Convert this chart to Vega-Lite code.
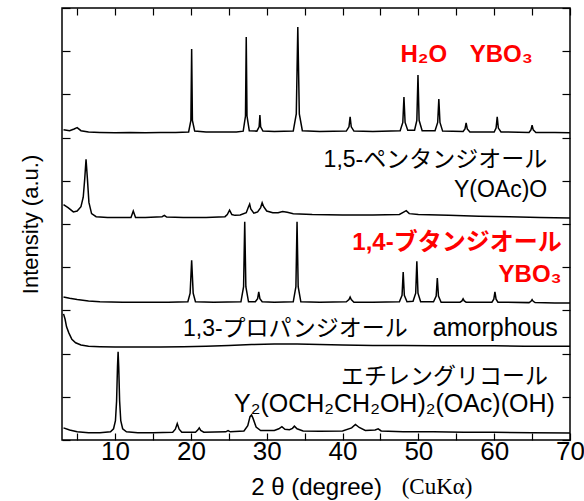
{
  "$schema": "https://vega.github.io/schema/vega-lite/v6.json",
  "width": 508,
  "height": 432,
  "autosize": {"type": "none"},
  "padding": {"left": 62, "top": 8, "right": 14, "bottom": 61},
  "background": "white",
  "config": {
    "view": {"stroke": "black", "strokeWidth": 1.5},
    "axis": {
      "domain": false,
      "grid": false,
      "tickColor": "black",
      "tickWidth": 1.2,
      "labelColor": "black",
      "labelFont": "Liberation Sans",
      "labelFontSize": 26,
      "titleFont": "Liberation Sans",
      "titleFontSize": 22,
      "titleFontWeight": "normal",
      "titleColor": "black"
    }
  },
  "datasets": {
    "xrd": [
      {"s":"A","x":3.2,"y":7.18},{"s":"A","x":4.0,"y":7.16},{"s":"A","x":4.6,"y":7.2},{"s":"A","x":5.0,"y":7.23},{"s":"A","x":5.5,"y":7.16},{"s":"A","x":6.5,"y":7.13},{"s":"A","x":8,"y":7.12},{"s":"A","x":10,"y":7.11},{"s":"A","x":12,"y":7.12},{"s":"A","x":14,"y":7.11},{"s":"A","x":16,"y":7.12},{"s":"A","x":18,"y":7.12},{"s":"A","x":19.7,"y":7.13},{"s":"A","x":20.0,"y":7.4},{"s":"A","x":20.1,"y":9.05},{"s":"A","x":20.2,"y":7.4},{"s":"A","x":20.5,"y":7.15},{"s":"A","x":22,"y":7.13},{"s":"A","x":24,"y":7.13},{"s":"A","x":26,"y":7.13},{"s":"A","x":26.9,"y":7.15},{"s":"A","x":27.2,"y":7.5},{"s":"A","x":27.3,"y":9.33},{"s":"A","x":27.4,"y":7.5},{"s":"A","x":27.7,"y":7.16},{"s":"A","x":28.7,"y":7.15},{"s":"A","x":29.0,"y":7.25},{"s":"A","x":29.1,"y":7.52},{"s":"A","x":29.2,"y":7.25},{"s":"A","x":29.5,"y":7.15},{"s":"A","x":31,"y":7.14},{"s":"A","x":33.5,"y":7.15},{"s":"A","x":33.9,"y":7.55},{"s":"A","x":34.1,"y":9.56},{"s":"A","x":34.3,"y":7.55},{"s":"A","x":34.7,"y":7.16},{"s":"A","x":37,"y":7.14},{"s":"A","x":40.5,"y":7.15},{"s":"A","x":40.85,"y":7.25},{"s":"A","x":41.0,"y":7.48},{"s":"A","x":41.15,"y":7.25},{"s":"A","x":41.5,"y":7.15},{"s":"A","x":44,"y":7.14},{"s":"A","x":47.6,"y":7.16},{"s":"A","x":47.95,"y":7.35},{"s":"A","x":48.1,"y":7.94},{"s":"A","x":48.25,"y":7.35},{"s":"A","x":48.6,"y":7.17},{"s":"A","x":49.5,"y":7.17},{"s":"A","x":49.8,"y":7.4},{"s":"A","x":49.95,"y":8.45},{"s":"A","x":50.1,"y":7.4},{"s":"A","x":50.5,"y":7.16},{"s":"A","x":52.2,"y":7.16},{"s":"A","x":52.55,"y":7.35},{"s":"A","x":52.7,"y":7.89},{"s":"A","x":52.85,"y":7.35},{"s":"A","x":53.2,"y":7.15},{"s":"A","x":55.9,"y":7.14},{"s":"A","x":56.15,"y":7.2},{"s":"A","x":56.3,"y":7.34},{"s":"A","x":56.45,"y":7.2},{"s":"A","x":56.8,"y":7.13},{"s":"A","x":60.0,"y":7.13},{"s":"A","x":60.25,"y":7.22},{"s":"A","x":60.4,"y":7.48},{"s":"A","x":60.55,"y":7.22},{"s":"A","x":60.9,"y":7.13},{"s":"A","x":64.6,"y":7.12},{"s":"A","x":64.85,"y":7.18},{"s":"A","x":65.0,"y":7.29},{"s":"A","x":65.15,"y":7.18},{"s":"A","x":65.5,"y":7.12},{"s":"A","x":68,"y":7.12},{"s":"A","x":70,"y":7.11},

      {"s":"B","x":3.2,"y":5.45},{"s":"B","x":3.8,"y":5.38},{"s":"B","x":4.5,"y":5.28},{"s":"B","x":5.0,"y":5.3},{"s":"B","x":5.5,"y":5.4},{"s":"B","x":5.8,"y":5.62},{"s":"B","x":6.0,"y":6.05},{"s":"B","x":6.17,"y":6.5},{"s":"B","x":6.35,"y":6.05},{"s":"B","x":6.55,"y":5.5},{"s":"B","x":6.9,"y":5.24},{"s":"B","x":7.5,"y":5.17},{"s":"B","x":9,"y":5.15},{"s":"B","x":11,"y":5.15},{"s":"B","x":12.1,"y":5.15},{"s":"B","x":12.4,"y":5.3},{"s":"B","x":12.7,"y":5.15},{"s":"B","x":14,"y":5.15},{"s":"B","x":16.2,"y":5.17},{"s":"B","x":16.5,"y":5.2},{"s":"B","x":16.8,"y":5.16},{"s":"B","x":19,"y":5.15},{"s":"B","x":22,"y":5.15},{"s":"B","x":24.5,"y":5.17},{"s":"B","x":24.8,"y":5.22},{"s":"B","x":25.1,"y":5.32},{"s":"B","x":25.4,"y":5.22},{"s":"B","x":25.8,"y":5.2},{"s":"B","x":26.5,"y":5.21},{"s":"B","x":27.3,"y":5.26},{"s":"B","x":27.6,"y":5.4},{"s":"B","x":27.75,"y":5.46},{"s":"B","x":27.9,"y":5.35},{"s":"B","x":28.3,"y":5.25},{"s":"B","x":28.8,"y":5.28},{"s":"B","x":29.2,"y":5.38},{"s":"B","x":29.4,"y":5.49},{"s":"B","x":29.6,"y":5.4},{"s":"B","x":30.0,"y":5.3},{"s":"B","x":30.8,"y":5.26},{"s":"B","x":31.5,"y":5.26},{"s":"B","x":32.1,"y":5.29},{"s":"B","x":32.7,"y":5.27},{"s":"B","x":33.5,"y":5.24},{"s":"B","x":36,"y":5.22},{"s":"B","x":40,"y":5.21},{"s":"B","x":44,"y":5.21},{"s":"B","x":47.5,"y":5.22},{"s":"B","x":48.0,"y":5.27},{"s":"B","x":48.4,"y":5.31},{"s":"B","x":48.8,"y":5.24},{"s":"B","x":50,"y":5.22},{"s":"B","x":54,"y":5.2},{"s":"B","x":58,"y":5.18},{"s":"B","x":62,"y":5.17},{"s":"B","x":66,"y":5.15},{"s":"B","x":70,"y":5.14},

      {"s":"C","x":3.2,"y":3.31},{"s":"C","x":4,"y":3.28},{"s":"C","x":5,"y":3.25},{"s":"C","x":6.5,"y":3.22},{"s":"C","x":8,"y":3.2},{"s":"C","x":11,"y":3.19},{"s":"C","x":14,"y":3.19},{"s":"C","x":17,"y":3.19},{"s":"C","x":19.6,"y":3.2},{"s":"C","x":19.9,"y":3.4},{"s":"C","x":20.1,"y":4.16},{"s":"C","x":20.3,"y":3.4},{"s":"C","x":20.6,"y":3.2},{"s":"C","x":23,"y":3.19},{"s":"C","x":26.6,"y":3.2},{"s":"C","x":26.95,"y":3.55},{"s":"C","x":27.1,"y":5.05},{"s":"C","x":27.25,"y":3.55},{"s":"C","x":27.6,"y":3.2},{"s":"C","x":28.5,"y":3.2},{"s":"C","x":28.8,"y":3.27},{"s":"C","x":28.95,"y":3.43},{"s":"C","x":29.1,"y":3.27},{"s":"C","x":29.4,"y":3.2},{"s":"C","x":31,"y":3.19},{"s":"C","x":33.5,"y":3.2},{"s":"C","x":33.85,"y":3.55},{"s":"C","x":34.0,"y":5.05},{"s":"C","x":34.15,"y":3.55},{"s":"C","x":34.5,"y":3.2},{"s":"C","x":37,"y":3.19},{"s":"C","x":40.5,"y":3.2},{"s":"C","x":40.85,"y":3.25},{"s":"C","x":41.0,"y":3.31},{"s":"C","x":41.15,"y":3.25},{"s":"C","x":41.5,"y":3.19},{"s":"C","x":44,"y":3.19},{"s":"C","x":47.5,"y":3.2},{"s":"C","x":47.85,"y":3.35},{"s":"C","x":48.0,"y":3.89},{"s":"C","x":48.15,"y":3.35},{"s":"C","x":48.5,"y":3.2},{"s":"C","x":49.3,"y":3.21},{"s":"C","x":49.65,"y":3.4},{"s":"C","x":49.8,"y":4.14},{"s":"C","x":49.95,"y":3.4},{"s":"C","x":50.3,"y":3.2},{"s":"C","x":52.0,"y":3.2},{"s":"C","x":52.35,"y":3.33},{"s":"C","x":52.5,"y":3.75},{"s":"C","x":52.65,"y":3.33},{"s":"C","x":53.0,"y":3.19},{"s":"C","x":55.5,"y":3.19},{"s":"C","x":55.75,"y":3.22},{"s":"C","x":55.9,"y":3.27},{"s":"C","x":56.05,"y":3.22},{"s":"C","x":56.3,"y":3.19},{"s":"C","x":59.7,"y":3.19},{"s":"C","x":59.95,"y":3.26},{"s":"C","x":60.1,"y":3.43},{"s":"C","x":60.25,"y":3.26},{"s":"C","x":60.5,"y":3.19},{"s":"C","x":64.6,"y":3.18},{"s":"C","x":64.85,"y":3.21},{"s":"C","x":65.0,"y":3.25},{"s":"C","x":65.15,"y":3.21},{"s":"C","x":65.4,"y":3.18},{"s":"C","x":68,"y":3.17},{"s":"C","x":70,"y":3.17},

      {"s":"D","x":3.2,"y":2.92},{"s":"D","x":3.4,"y":2.8},{"s":"D","x":3.6,"y":2.62},{"s":"D","x":3.9,"y":2.48},{"s":"D","x":4.3,"y":2.33},{"s":"D","x":4.8,"y":2.25},{"s":"D","x":5.5,"y":2.2},{"s":"D","x":6.5,"y":2.17},{"s":"D","x":8,"y":2.16},{"s":"D","x":10,"y":2.15},{"s":"D","x":13,"y":2.15},{"s":"D","x":16,"y":2.15},{"s":"D","x":19,"y":2.16},{"s":"D","x":22,"y":2.17},{"s":"D","x":25,"y":2.19},{"s":"D","x":28,"y":2.21},{"s":"D","x":31,"y":2.22},{"s":"D","x":34,"y":2.22},{"s":"D","x":37,"y":2.21},{"s":"D","x":40,"y":2.2},{"s":"D","x":44,"y":2.19},{"s":"D","x":48,"y":2.19},{"s":"D","x":52,"y":2.18},{"s":"D","x":56,"y":2.18},{"s":"D","x":60,"y":2.18},{"s":"D","x":64,"y":2.17},{"s":"D","x":67,"y":2.17},{"s":"D","x":70,"y":2.17},

      {"s":"E","x":3.2,"y":0.28},{"s":"E","x":4,"y":0.23},{"s":"E","x":5,"y":0.19},{"s":"E","x":6.5,"y":0.17},{"s":"E","x":8,"y":0.17},{"s":"E","x":9.4,"y":0.19},{"s":"E","x":9.8,"y":0.26},{"s":"E","x":10.05,"y":0.45},{"s":"E","x":10.2,"y":0.9},{"s":"E","x":10.32,"y":1.7},{"s":"E","x":10.4,"y":2.04},{"s":"E","x":10.48,"y":1.7},{"s":"E","x":10.6,"y":0.9},{"s":"E","x":10.75,"y":0.45},{"s":"E","x":11.0,"y":0.26},{"s":"E","x":11.5,"y":0.19},{"s":"E","x":13,"y":0.17},{"s":"E","x":15,"y":0.17},{"s":"E","x":17.6,"y":0.18},{"s":"E","x":17.95,"y":0.25},{"s":"E","x":18.2,"y":0.38},{"s":"E","x":18.45,"y":0.25},{"s":"E","x":18.8,"y":0.18},{"s":"E","x":20.6,"y":0.18},{"s":"E","x":20.9,"y":0.23},{"s":"E","x":21.1,"y":0.28},{"s":"E","x":21.3,"y":0.22},{"s":"E","x":21.7,"y":0.18},{"s":"E","x":24.6,"y":0.19},{"s":"E","x":24.9,"y":0.22},{"s":"E","x":25.2,"y":0.19},{"s":"E","x":27.0,"y":0.21},{"s":"E","x":27.5,"y":0.33},{"s":"E","x":27.8,"y":0.54},{"s":"E","x":28.0,"y":0.58},{"s":"E","x":28.2,"y":0.5},{"s":"E","x":28.6,"y":0.3},{"s":"E","x":29.2,"y":0.22},{"s":"E","x":31.0,"y":0.22},{"s":"E","x":31.6,"y":0.26},{"s":"E","x":32.0,"y":0.31},{"s":"E","x":32.4,"y":0.25},{"s":"E","x":33.0,"y":0.24},{"s":"E","x":33.4,"y":0.27},{"s":"E","x":33.65,"y":0.32},{"s":"E","x":34.0,"y":0.26},{"s":"E","x":34.8,"y":0.21},{"s":"E","x":37,"y":0.2},{"s":"E","x":40,"y":0.21},{"s":"E","x":41.2,"y":0.28},{"s":"E","x":41.7,"y":0.36},{"s":"E","x":42.2,"y":0.29},{"s":"E","x":43,"y":0.22},{"s":"E","x":44.3,"y":0.23},{"s":"E","x":44.7,"y":0.26},{"s":"E","x":45.1,"y":0.21},{"s":"E","x":48,"y":0.19},{"s":"E","x":52,"y":0.19},{"s":"E","x":56,"y":0.18},{"s":"E","x":60,"y":0.18},{"s":"E","x":65,"y":0.17},{"s":"E","x":70,"y":0.16}
    ],
    "blackLabels": [
      {"t":"1,5-ペンタンジオール","x":67.0,"y":6.32},
      {"t":"Y(OAc)O","x":67.0,"y":5.63},
      {"t":"1,3-プロパンジオール","x":48.6,"y":2.40},
      {"t":"エチレングリコール","x":67.1,"y":1.30}
    ],
    "blackLabelsLarge": [
      {"t":"amorphous","x":68.4,"y":2.40},
      {"t":"Y₂(OCH₂CH₂OH)₂(OAc)(OH)","x":68.0,"y":0.65}
    ],
    "redLabels": [
      {"t":"H₂O","x":53.8,"y":8.75},
      {"t":"YBO₃","x":65.1,"y":8.75},
      {"t":"1,4-ブタンジオール","x":68.9,"y":4.40},
      {"t":"YBO₃","x":68.9,"y":3.66}
    ],
    "note": [
      {"t":"(CuKα)","x":47.8,"y":-1.25}
    ]
  },
  "layer": [
    {
      "data": {"name": "xrd"},
      "mark": {"type": "line", "color": "black", "strokeWidth": 1.5},
      "encoding": {
        "x": {"field": "x", "type": "quantitative",
          "scale": {"domain": [3, 70], "nice": false, "zero": false},
          "axis": {"orient": "bottom", "values": [5,10,15,20,25,30,35,40,45,50,55,60,65,70],
            "labelExpr": "datum.value % 10 === 0 ? datum.label : ''",
            "tickSize": -7, "labelPadding": 5, "labelFlush": false,
            "title": "2 θ  (degree)", "titleFontSize": 24, "titleX": 254, "titleY": 54, "titleBaseline": "alphabetic"}},
        "y": {"field": "y", "type": "quantitative",
          "scale": {"domain": [0, 10], "nice": false, "zero": false},
          "axis": {"orient": "left", "values": [0,1,2,3,4,5,6,7,8,9,10], "labels": false,
            "tickSize": -8, "title": "Intensity (a.u.)", "titleX": -25, "titleY": 216, "titleBaseline": "alphabetic"}},
        "detail": {"field": "s", "type": "nominal"}
      }
    },
    {
      "data": {"name": "blackLabels"},
      "mark": {"type": "text", "align": "right", "baseline": "alphabetic", "font": "Liberation Sans, Noto Sans CJK JP", "fontSize": 23, "color": "black"},
      "encoding": {
        "x": {"field": "x", "type": "quantitative",
          "axis": {"orient": "top", "values": [5,10,15,20,25,30,35,40,45,50,55,60,65,70], "labels": false, "tickSize": -7, "title": null}},
        "y": {"field": "y", "type": "quantitative",
          "axis": {"orient": "right", "values": [0,1,2,3,4,5,6,7,8,9,10], "labels": false, "tickSize": -8, "title": null}},
        "text": {"field": "t"}
      }
    },
    {
      "data": {"name": "blackLabelsLarge"},
      "mark": {"type": "text", "align": "right", "baseline": "alphabetic", "font": "Liberation Sans, Noto Sans", "fontSize": 25, "color": "black"},
      "encoding": {
        "x": {"field": "x", "type": "quantitative", "axis": null},
        "y": {"field": "y", "type": "quantitative", "axis": null},
        "text": {"field": "t"}
      }
    },
    {
      "data": {"name": "redLabels"},
      "mark": {"type": "text", "align": "right", "baseline": "alphabetic", "font": "Liberation Sans, Noto Sans, Noto Sans CJK JP", "fontSize": 24, "fontWeight": "bold", "color": "#ff0000"},
      "encoding": {
        "x": {"field": "x", "type": "quantitative", "axis": null},
        "y": {"field": "y", "type": "quantitative", "axis": null},
        "text": {"field": "t"}
      }
    },
    {
      "data": {"name": "note"},
      "mark": {"type": "text", "align": "left", "baseline": "alphabetic", "font": "Liberation Serif", "fontSize": 23, "color": "black"},
      "encoding": {
        "x": {"field": "x", "type": "quantitative", "axis": null},
        "y": {"field": "y", "type": "quantitative", "axis": null},
        "text": {"field": "t"}
      }
    }
  ],
  "resolve": {"axis": {"x": "independent", "y": "independent"}}
}
